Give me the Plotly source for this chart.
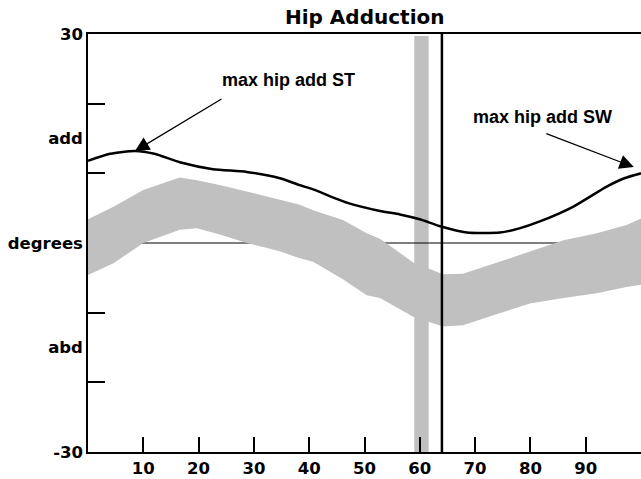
import plotly.graph_objects as go

# Patient curve (hip adduction, degrees) vs % gait cycle
patient_x = [0, 4, 8.5, 12, 16.6, 22.6, 28.7, 34.7, 38.3, 40.7, 46.8, 52.8, 56.4, 60,
             63.7, 68.5, 74.5, 78, 81.7, 87.7, 93.8, 97, 100]
patient_y = [11.8, 12.8, 13.2, 12.8, 11.6, 10.6, 10.2, 9.3, 8.3, 7.7, 5.8, 4.6, 4.1, 3.4,
             2.4, 1.5, 1.5, 2.1, 3.1, 5.2, 8.1, 9.3, 10.0]

# Normal band
band_x = [0, 4.6, 10, 16.6, 19.7, 24, 28.7, 34.7, 38.3, 40.7, 46.1, 50.4, 52.8, 56, 58.8,
          64.2, 67.8, 74, 79.9, 86, 92, 97.4, 100]
band_upper = [3.4, 5.2, 7.6, 9.4, 9.0, 8.3, 7.4, 6.2, 5.5, 4.7, 3.3, 1.4, 0.6, -1.2, -2.8,
              -4.5, -4.4, -2.8, -1.2, 0.4, 1.4, 2.6, 3.5]
band_lower = [-4.6, -2.9, 0, 1.9, 2.1, 1.2, 0, -1.2, -2.2, -2.7, -5.2, -7.5, -7.9, -9.3, -10.6,
              -12.0, -11.8, -10.2, -8.7, -7.9, -7.2, -6.3, -6.0]

# Event markers
normal_toe_off = [59.0, 61.6]
patient_toe_off = 64

x_ticks = [10, 20, 30, 40, 50, 60, 70, 80, 90]
y_label_vals = [30, 15, 0, -15, -30]
y_label_text = ["30", "add", "degrees", "abd", "-30"]
y_minor_ticks = [-20, -10, 10, 20]

max_st = (8.5, 13.2)
max_sw = (98.7, 10.9)

BAND = "#c0c0c0"
fig = go.Figure()

# normal toe-off bar
fig.add_trace(go.Scatter(
    x=[normal_toe_off[0], normal_toe_off[1], normal_toe_off[1], normal_toe_off[0], normal_toe_off[0]],
    y=[-30, -30, 29.7, 29.7, -30], fill="toself", fillcolor=BAND,
    line=dict(width=0), mode="lines", hoverinfo="skip", showlegend=False))

# zero line
fig.add_trace(go.Scatter(x=[0, 100], y=[0, 0], mode="lines",
                         line=dict(color="black", width=1.2), showlegend=False))

# normal band
fig.add_trace(go.Scatter(x=band_x, y=band_lower, mode="lines", line=dict(width=0),
                         showlegend=False))
fig.add_trace(go.Scatter(x=band_x, y=band_upper, mode="lines", line=dict(width=0),
                         fill="tonexty", fillcolor=BAND, showlegend=False))

# patient toe-off line
fig.add_trace(go.Scatter(x=[patient_toe_off, patient_toe_off], y=[-30, 30], mode="lines",
                         line=dict(color="black", width=2.5), showlegend=False))

# patient curve
fig.add_trace(go.Scatter(x=patient_x, y=patient_y, mode="lines",
                         line=dict(color="black", width=2.5, shape="spline", smoothing=0.6),
                         showlegend=False))

# dummy trace for minor tick axis
fig.add_trace(go.Scatter(x=[0], y=[0], yaxis="y2", mode="markers",
                         marker=dict(opacity=0), showlegend=False, hoverinfo="skip"))

tickfont = dict(family="DejaVu Sans", size=16.5, color="black", weight="bold")
annfont = dict(family="Liberation Sans", size=18, color="black", weight="bold")

fig.update_layout(
    width=641, height=479,
    margin=dict(l=88, r=0, t=34, b=27, autoexpand=False),
    plot_bgcolor="white", paper_bgcolor="white",
    xaxis=dict(range=[0, 100], tickvals=x_ticks, ticks="inside", ticklen=15,
               tickwidth=1.5, tickcolor="black", showline=True, linewidth=1.5,
               linecolor="black", mirror=True, showgrid=False, zeroline=False,
               tickfont=tickfont, automargin=False),
    yaxis=dict(range=[-30, 30], tickvals=y_label_vals, ticktext=y_label_text,
               ticks="", showline=True, linewidth=1.5, linecolor="black",
               showgrid=False, zeroline=False, tickfont=tickfont, ticklabelstandoff=0,
               automargin=False),
    yaxis2=dict(range=[-30, 30], overlaying="y", side="left", tickvals=y_minor_ticks,
                ticks="inside", ticklen=17, tickwidth=1.5, tickcolor="black",
                showticklabels=False, showline=False, showgrid=False, zeroline=False,
                automargin=False),
)

# title
fig.add_annotation(text="Hip Adduction", xref="paper", yref="paper", x=0.5, y=1.04,
                   yanchor="middle", showarrow=False,
                   font=dict(family="DejaVu Sans", size=20, color="black", weight="bold"))

# arrows
fig.add_annotation(x=max_st[0], y=max_st[1], text="", showarrow=True, ax=88, ay=-53,
                   arrowhead=2, arrowsize=2.2, arrowwidth=1.3, arrowcolor="black")
fig.add_annotation(x=max_sw[0], y=max_sw[1], text="", showarrow=True, ax=-89, ay=-34,
                   arrowhead=2, arrowsize=2.2, arrowwidth=1.3, arrowcolor="black")

fig.add_annotation(text="max hip add ST", x=23.9, y=23.4, xanchor="left", yanchor="middle",
                   showarrow=False, font=annfont)
fig.add_annotation(text="max hip add SW", x=69.3, y=18.1, xanchor="left", yanchor="middle",
                   showarrow=False, font=annfont)

fig.write_html("out.html", config={"displayModeBar": False},
               post_script="document.body.style.margin='0';document.body.style.overflow='hidden';")
